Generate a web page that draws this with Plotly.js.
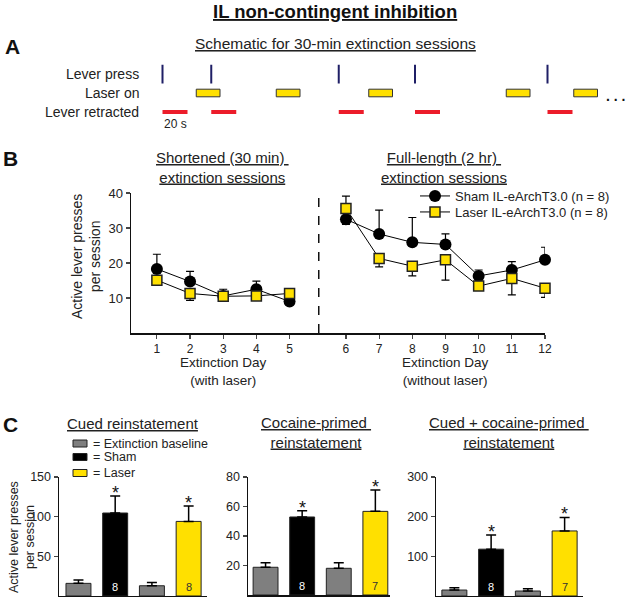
<!DOCTYPE html>
<html>
<head>
<meta charset="utf-8">
<script src="https://cdn.plot.ly/plotly-3.0.1.min.js"></script>
<style>
  body { margin: 0; background: #fff; }
  #fig { width: 640px; height: 597px; }
</style>
</head>
<body>
<div id="fig"></div>
<script>
/* ---- Panel A: schematic (times in seconds) ---- */
const pressTimes = [10, 49, 151, 212, 318];
const laserStarts = [37, 101, 175, 285, 339];
const laserDur = 19;
const retractDur = 20;
const rowLabels = ['Lever retracted', 'Laser on', 'Lever press'];

/* ---- Panel B: extinction days ---- */
const days = [1, 2, 3, 4, 5, 6, 7, 8, 9, 10, 11, 12];
const shamMean = [18.3, 14.7, 10.6, 12.5, 9.0, 32.5, 28.3, 25.9, 25.3, 16.3, 18.0, 20.9];
const shamSem = [4.2, 2.9, 1.9, 2.3, 0.8, 1.5, 6.8, 7.1, 3.0, 1.7, 2.4, 3.6];
const laserMean = [15.1, 11.3, 10.5, 10.6, 11.3, 35.6, 21.3, 19.1, 20.9, 13.4, 15.6, 12.8];
const laserSem = [1.0, 2.0, 0.8, 0.8, 1.0, 3.5, 2.4, 2.8, 5.8, 0.9, 4.7, 2.6];
const shortDays = 5;   // days 1-5 with laser

/* ---- Panel C: reinstatement ---- */
const groups = [1, 2, 3, 4]; // baseline(sham), sham, baseline(laser), laser
const barColors = ['#7f7f7f', '#000000', '#7f7f7f', '#ffe000'];
const cuedMean = [15.9, 104.6, 12.9, 94.0];
const cuedSem = [4.1, 21.4, 4.1, 19.3];
const cocMean = [18.8, 52.9, 18.1, 56.7];
const cocSem = [3.1, 4.3, 3.8, 14.5];
const bothMean = [15, 118, 12.5, 164];
const bothSem = [6, 36, 5.5, 34];
const cuedN = ['', '8', '', '8'];
const cocN = ['', '8', '', '7'];
const bothN = ['', '8', '', '7'];
const signif = [false, true, false, true];

const W = 640, H = 597;
function px(x) { return x / W; }
function py(y) { return 1 - y / H; }

const FONT = 'Liberation Sans, Arial, sans-serif';
const dayGap = 0.7;
const xpos = days.map(d => d <= shortDays ? d : d + dayGap);

// put a null between the two session types so lines break there
function split(arr) {
    return arr.slice(0, shortDays).concat([null], arr.slice(shortDays));
}

let shamUp = shamSem.map((s, i) => shamMean[i] >= laserMean[i] ? s : 0);
let shamDn = shamSem.map((s, i) => shamMean[i] >= laserMean[i] ? 0 : s);
let laserUp = laserSem.map((s, i) => laserMean[i] > shamMean[i] ? s : 0);
let laserDn = laserSem.map((s, i) => laserMean[i] > shamMean[i] ? 0 : s);

var traces = [];

// schematic: lever presses
traces.push({
    type: 'scatter', mode: 'lines', xaxis: 'x5', yaxis: 'y5', showlegend: false, hoverinfo: 'skip',
    x: pressTimes.flatMap(t => [t, t, null]),
    y: pressTimes.flatMap(t => [2.5, 3.5, null]),
    line: {color: '#1f1f66', width: 2}
});
// schematic: lever retracted
traces.push({
    type: 'scatter', mode: 'lines', xaxis: 'x5', yaxis: 'y5', showlegend: false, hoverinfo: 'skip',
    x: pressTimes.flatMap(t => [t, t + retractDur, null]),
    y: pressTimes.flatMap(t => [1, 1, null]),
    line: {color: '#ec1c2a', width: 4}
});

// panel B
traces.push({
    type: 'scatter', mode: 'lines+markers', name: 'Sham IL-eArchT3.0 (n = 8)', legend: 'legend',
    x: split(xpos), y: split(shamMean), cliponaxis: false,
    line: {color: '#000', width: 1},
    marker: {symbol: 'circle', size: 12, color: '#000'},
    error_y: {type: 'data', symmetric: false, array: split(shamUp), arrayminus: split(shamDn),
              color: '#000', thickness: 1.2, width: 4}
});
traces.push({
    type: 'scatter', mode: 'lines+markers', name: 'Laser IL-eArchT3.0 (n = 8)', legend: 'legend2',
    x: split(xpos), y: split(laserMean), cliponaxis: false,
    line: {color: '#000', width: 1},
    marker: {symbol: 'square', size: 10, color: '#ffe000', line: {color: '#222', width: 1.5}},
    error_y: {type: 'data', symmetric: false, array: split(laserUp), arrayminus: split(laserDn),
              color: '#000', thickness: 1.2, width: 4}
});

// panel C bars
const cPanels = [
    {ax: '2', mean: cuedMean, sem: cuedSem, n: cuedN},
    {ax: '3', mean: cocMean, sem: cocSem, n: cocN},
    {ax: '4', mean: bothMean, sem: bothSem, n: bothN}
];
cPanels.forEach(p => {
    traces.push({
        type: 'bar', xaxis: 'x' + p.ax, yaxis: 'y' + p.ax, showlegend: false,
        x: groups, y: p.mean, width: 0.68,
        marker: {color: barColors, line: {color: '#222', width: 1}},
        error_y: {type: 'data', symmetric: false, array: p.sem, arrayminus: p.mean.map(() => 0),
                  color: '#000', thickness: 1.5, width: 5}
    });
});

var annotations = [];
function ann(o) {
    annotations.push(Object.assign({showarrow: false, xanchor: 'center', yanchor: 'middle',
                                    font: {family: FONT, size: 13, color: '#111'}}, o));
}

// titles and panel letters
ann({xref: 'paper', yref: 'paper', x: px(335), y: py(11), text: '<b><u>IL non-contingent inhibition</u></b>',
     font: {family: FONT, size: 18.5, color: '#111'}});
ann({xref: 'paper', yref: 'paper', x: px(12), y: py(46), text: '<b>A</b>', font: {family: FONT, size: 21, color: '#111'}});
ann({xref: 'paper', yref: 'paper', x: px(10), y: py(159), text: '<b>B</b>', font: {family: FONT, size: 21, color: '#111'}});
ann({xref: 'paper', yref: 'paper', x: px(10), y: py(424), text: '<b>C</b>', font: {family: FONT, size: 21, color: '#111'}});
ann({xref: 'paper', yref: 'paper', x: px(335), y: py(44), text: '<u>Schematic for 30-min extinction sessions</u>',
     font: {family: FONT, size: 15.5, color: '#222'}});

// schematic row labels
rowLabels.forEach((lab, i) => {
    ann({xref: 'paper', yref: 'y5', x: px(141), xanchor: 'right', y: i + 1, text: lab,
         font: {family: FONT, size: 14, color: '#222'}});
});
ann({xref: 'x5', yref: 'paper', x: pressTimes[0] + retractDur / 2, y: py(124), text: '20 s',
     font: {family: FONT, size: 12, color: '#222'}});
ann({xref: 'x5', yref: 'y5', x: 372, y: 1.85, text: '<b>. . .</b>', font: {family: FONT, size: 14, color: '#111'}});

// panel B headings
ann({xref: 'paper', yref: 'paper', x: px(222), y: py(167),
     text: '<u>Shortened (30 min) </u><br><u>extinction sessions</u>', font: {family: FONT, size: 15, color: '#222'}});
ann({xref: 'paper', yref: 'paper', x: px(444), y: py(167),
     text: '<u>Full-length (2 hr) </u><br><u>extinction sessions</u>', font: {family: FONT, size: 15, color: '#222'}});
ann({xref: 'x', yref: 'paper', x: xpos[2], y: py(371), text: 'Extinction Day<br>(with laser)',
     font: {family: FONT, size: 13.5, color: '#222'}});
ann({xref: 'x', yref: 'paper', x: xpos[8], y: py(371), text: 'Extinction Day<br>(without laser)',
     font: {family: FONT, size: 13.5, color: '#222'}});
ann({xref: 'paper', yref: 'paper', x: px(86), y: py(257), textangle: -90,
     text: 'Active lever presses<br>per session', font: {family: FONT, size: 14, color: '#222'}});

// panel C headings
ann({xref: 'paper', yref: 'paper', x: px(133), y: py(423), text: '<u>Cued reinstatement</u>',
     font: {family: FONT, size: 15, color: '#222'}});
ann({xref: 'paper', yref: 'paper', x: px(316), y: py(432), text: '<u>Cocaine-primed </u><br><u>reinstatement</u>',
     font: {family: FONT, size: 15, color: '#222'}});
ann({xref: 'paper', yref: 'paper', x: px(509), y: py(432), text: '<u>Cued + cocaine-primed </u><br><u>reinstatement</u>',
     font: {family: FONT, size: 15, color: '#222'}});
ann({xref: 'paper', yref: 'paper', x: px(22), y: py(537), textangle: -90,
     text: 'Active lever presses<br>per session', font: {family: FONT, size: 12.5, color: '#222'}});

// panel C legend
const cLegend = ['= Extinction baseline', '= Sham', '= Laser'];
const cLegendColors = [barColors[0], barColors[1], barColors[3]];
const cLegendY = [443.5, 457, 473];
cLegend.forEach((t, i) => {
    ann({xref: 'paper', yref: 'paper', x: px(91), xanchor: 'left', y: py(cLegendY[i]), text: t,
         font: {family: FONT, size: 12.5, color: '#222'}});
});

// asterisks and n labels
cPanels.forEach(p => {
    groups.forEach((g, i) => {
        if (signif[i]) {
            ann({xref: 'x' + p.ax, yref: 'y' + p.ax, x: g, y: p.mean[i] + p.sem[i], yanchor: 'bottom', yshift: -9,
                 text: '*', font: {family: FONT, size: 18, color: '#111'}});
        }
        if (p.n[i]) {
            ann({xref: 'x' + p.ax, yref: 'y' + p.ax, x: g, y: 0, yanchor: 'bottom', yshift: 1,
                 text: p.n[i], font: {family: FONT, size: 11, color: i === 1 ? '#fff' : '#333'}});
        }
    });
});

var shapes = [];
// laser-on boxes
laserStarts.forEach(t => {
    shapes.push({type: 'rect', xref: 'x5', yref: 'y5', x0: t, x1: t + laserDur, y0: 1.8, y1: 2.2,
                 fillcolor: '#ffe000', line: {color: '#333', width: 1}});
});
// dashed separator between session types
shapes.push({type: 'line', xref: 'x', yref: 'y', x0: 5.88, x1: 5.88, y0: 0, y1: 40,
             line: {color: '#111', width: 1.5, dash: 'dash'}});
// C legend keys
cLegendColors.forEach((c, i) => {
    shapes.push({type: 'rect', xref: 'paper', yref: 'paper', x0: px(73), x1: px(87),
                 y0: py(cLegendY[i] + 3.5), y1: py(cLegendY[i] - 3.5), fillcolor: c, line: {color: '#222', width: 1}});
});

function barY(domTop, rng, tv) {
    return {domain: [0.0017, py(domTop)], range: rng, tickvals: tv, ticks: 'outside', ticklen: 4, tickwidth: 1.2,
            showline: true, linecolor: '#111', linewidth: 1.5, showgrid: false, zeroline: false,
            tickfont: {family: FONT, size: 12.5, color: '#222'}, fixedrange: true};
}
function barX(anchor, l, r, rng) {
    return {anchor: anchor, domain: [px(l), px(r)], range: rng, showline: true, linecolor: '#111', linewidth: 2,
            showticklabels: false, ticks: '', showgrid: false, zeroline: false, fixedrange: true};
}

var layout = {
    width: 640, height: 597,
    margin: {l: 0, r: 0, t: 0, b: 0},
    paper_bgcolor: '#fff', plot_bgcolor: 'rgba(0,0,0,0)',
    font: {family: FONT, size: 12, color: '#222'},
    showlegend: true,
    xaxis: {anchor: 'y', domain: [px(131), px(545)], range: [0.22, 12.7], tickvals: xpos, ticktext: days.map(String),
            ticks: 'outside', ticklen: 4, tickwidth: 1.2, showline: true, linecolor: '#111', linewidth: 1.5,
            showgrid: false, zeroline: false, tickfont: {family: FONT, size: 12, color: '#222'}},
    yaxis: {anchor: 'x', domain: [py(333), py(193)], range: [0, 40], tickvals: [10, 20, 30, 40],
            ticks: 'outside', ticklen: 4, tickwidth: 1.2, showline: true, linecolor: '#111', linewidth: 1.5,
            showgrid: false, zeroline: false, tickfont: {family: FONT, size: 13, color: '#222'}},
    xaxis2: barX('y2', 59, 207, [0.47, 4.5]),
    yaxis2: Object.assign(barY(477, [0, 150], [50, 100, 150]), {anchor: 'x2'}),
    xaxis3: barX('y3', 248, 390, [0.52, 4.4]),
    yaxis3: Object.assign(barY(477, [0, 80], [20, 40, 60, 80]), {anchor: 'x3', domain: [py(595), py(477)]}),
    xaxis4: barX('y4', 436, 583, [0.5, 4.5]),
    yaxis4: Object.assign(barY(477, [0, 300], [100, 200, 300]), {anchor: 'x4'}),
    xaxis5: {anchor: 'y5', domain: [px(150), 1], range: [0, 392], visible: false, fixedrange: true},
    yaxis5: {anchor: 'x5', domain: [py(121.5), py(64.5)], range: [0.5, 3.5], visible: false, fixedrange: true},
    legend: {x: px(415), y: py(181), xanchor: 'left', yanchor: 'top', bgcolor: 'rgba(0,0,0,0)',
             font: {family: FONT, size: 13, color: '#222'}},
    legend2: {x: px(415), y: py(197), xanchor: 'left', yanchor: 'top', bgcolor: 'rgba(0,0,0,0)',
              font: {family: FONT, size: 13, color: '#222'}},
    annotations: annotations,
    shapes: shapes
};

Plotly.newPlot('fig', traces, layout, {displayModeBar: false, staticPlot: true});
</script>
</body>
</html>
